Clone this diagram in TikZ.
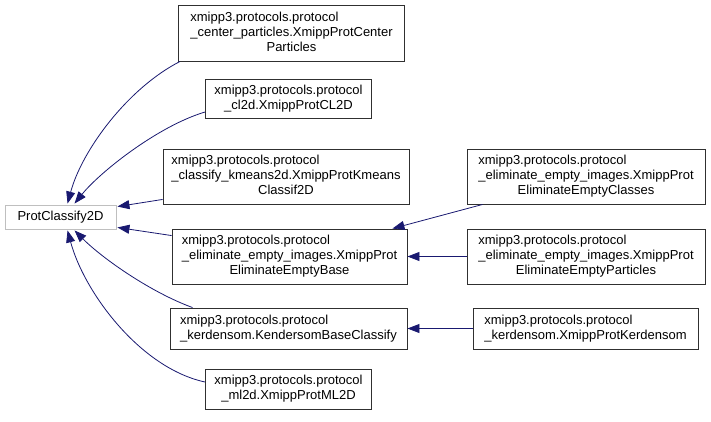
\documentclass[tikz,border=0pt]{standalone}
\usepackage{fontspec}
\setmainfont{Liberation Sans}
\usetikzlibrary{arrows.meta,calc}
\definecolor{edgenavy}{HTML}{191970}
\definecolor{boxline}{HTML}{303030}
\definecolor{rootline}{HTML}{BFBFBF}
\begin{document}
\begin{tikzpicture}[x=1pt,y=-1pt,
  box/.style={draw=boxline, line width=0.9pt, fill=white, inner sep=0pt,
    font=\fontsize{13}{15}\selectfont},
  rootbox/.style={box, draw=rootline},
  edge/.style={draw=edgenavy, line width=0.8pt, -{Triangle[length=12pt,width=9pt]}}]
\useasboundingbox (0,0) rectangle (711,421);

\node[rootbox, minimum width=111pt, minimum height=24pt] (P) at (60.5,217) {ProtClassify2D};

\node[box, minimum width=226pt, minimum height=56pt] (B1) at (291.5,33)
 {\begin{tabular}{@{}l@{}}xmipp3.protocols.protocol\\ \_center\_particles.XmippProtCenter\\ \multicolumn{1}{@{}c@{}}{Particles}\end{tabular}};
\node[box, minimum width=166pt, minimum height=39pt] (B2) at (288.5,99)
 {\begin{tabular}{@{}l@{}}xmipp3.protocols.protocol\\ \multicolumn{1}{@{}c@{}}{\_cl2d.XmippProtCL2D}\end{tabular}};
\node[box, minimum width=246pt, minimum height=55pt] (B3) at (286,176.5)
 {\begin{tabular}{@{}l@{}}xmipp3.protocols.protocol\\ \_classify\_kmeans2d.XmippProtKmeans\\ \multicolumn{1}{@{}c@{}}{Classif2D}\end{tabular}};
\node[box, minimum width=235pt, minimum height=55pt] (B4) at (289.5,256.5)
 {\begin{tabular}{@{}l@{}}xmipp3.protocols.protocol\\ \_eliminate\_empty\_images.XmippProt\\ \multicolumn{1}{@{}c@{}}{EliminateEmptyBase}\end{tabular}};
\node[box, minimum width=237pt, minimum height=41pt] (B5) at (288.5,328.5)
 {\begin{tabular}{@{}l@{}}xmipp3.protocols.protocol\\ \_kerdensom.KendersomBaseClassify\end{tabular}};
\node[box, minimum width=166pt, minimum height=40pt] (B6) at (288.5,389)
 {\begin{tabular}{@{}l@{}}xmipp3.protocols.protocol\\ \multicolumn{1}{@{}c@{}}{\_ml2d.XmippProtML2D}\end{tabular}};

\node[box, minimum width=238pt, minimum height=55pt] (R1) at (586,176.5)
 {\begin{tabular}{@{}l@{}}xmipp3.protocols.protocol\\ \_eliminate\_empty\_images.XmippProt\\ \multicolumn{1}{@{}c@{}}{EliminateEmptyClasses}\end{tabular}};
\node[box, minimum width=238pt, minimum height=55pt] (R2) at (586,256.5)
 {\begin{tabular}{@{}l@{}}xmipp3.protocols.protocol\\ \_eliminate\_empty\_images.XmippProt\\ \multicolumn{1}{@{}c@{}}{EliminateEmptyParticles}\end{tabular}};
\node[box, minimum width=225pt, minimum height=41pt] (R3) at (585.5,328.5)
 {\begin{tabular}{@{}l@{}}xmipp3.protocols.protocol\\ \_kerdensom.XmippProtKerdensom\end{tabular}};

% edges to ProtClassify2D
\draw[edge] ($(B1.south west)+(2,0)$) .. controls (128,88) and (82,150) .. ($(P.north west)+(63,-1)$);
\draw[edge] ($(B2.west)+(0,13)$) .. controls (158,126) and (100,172) .. ($(P.north west)+(70,-1)$);
\draw[edge] ($(B3.south west)+(0,-5)$) -- ($(P.north east)+(1,2)$);
\draw[edge] ($(B4.north west)+(0,7)$) -- ($(P.south east)+(1,-2)$);
\draw[edge] ($(B5.north west)+(23,0)$) .. controls (150,292) and (102,258) .. ($(P.south west)+(70,1)$);
\draw[edge] ($(B6.west)+(0,-7)$) .. controls (140,368) and (84,292) .. ($(P.south west)+(63,1)$);

% edges to second level
\draw[edge] ($(R1.south west)+(16,0)$) -- ($(B4.north east)+(-15,0)$);
\draw[edge] (R2.west) -- (B4.east);
\draw[edge] (R3.west) -- (B5.east);
\end{tikzpicture}
\end{document}
